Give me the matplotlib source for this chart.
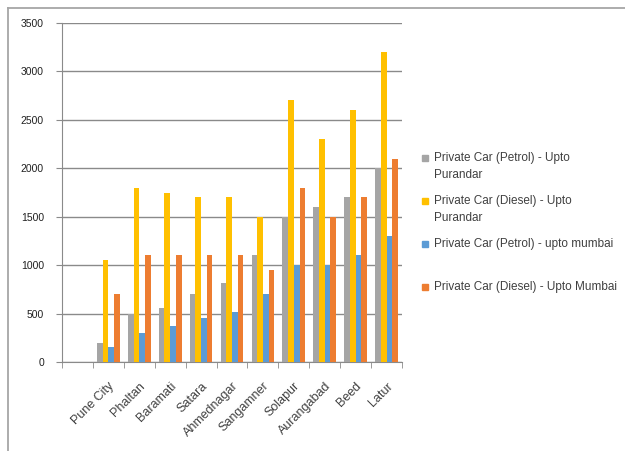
import matplotlib
matplotlib.use('Agg')
import matplotlib.pyplot as plt
from matplotlib.lines import Line2D
from matplotlib.patches import Rectangle
import numpy as np

plt.rcParams['font.family'] = ['Liberation Sans', 'DejaVu Sans']

# first slot is left empty in the original chart
cities = ['', 'Pune City', 'Phaltan', 'Baramati', 'Satara', 'Ahmednagar',
          'Sangamner', 'Solapur', 'Aurangabad', 'Beed', 'Latur']
petrol_purandar = [np.nan, 200, 500, 560, 700, 820, 1100, 1500, 1600, 1700, 2000]
diesel_purandar = [np.nan, 1050, 1800, 1740, 1700, 1700, 1500, 2700, 2300, 2600, 3200]
petrol_mumbai = [np.nan, 150, 300, 370, 450, 520, 700, 1000, 1000, 1100, 1300]
diesel_mumbai = [np.nan, 700, 1100, 1100, 1100, 1100, 950, 1800, 1500, 1700, 2100]

series = [petrol_purandar, diesel_purandar, petrol_mumbai, diesel_mumbai]
labels = ['Private Car (Petrol) - Upto\nPurandar',
          'Private Car (Diesel) - Upto\nPurandar',
          'Private Car (Petrol) - upto mumbai',
          'Private Car (Diesel) - Upto Mumbai']
colors = ['#A5A5A5', '#FFC000', '#5B9BD5', '#ED7D31']

W, H = 625, 451
fig = plt.figure(figsize=(W / 100, H / 100), dpi=100)
ax = fig.add_axes([62 / W, 1 - 362 / H, 340 / W, 339 / H])

x = np.arange(len(cities))
bw = 0.184
for i, (vals, c) in enumerate(zip(series, colors)):
    ax.bar(x + (i - 1.5) * bw, vals, bw, color=c, zorder=3)

grid_c = '#8a8a8a'
ax.set_ylim(0, 3500)
ax.set_yticks(np.arange(0, 3501, 500))
ax.yaxis.grid(True, color=grid_c, lw=1, zorder=0)
ax.set_xlim(-0.5, len(cities) - 0.5)
ax.set_xticks(x)
ax.set_xticklabels(cities, rotation=45, ha='right', va='top',
                   rotation_mode='anchor', fontsize=9, color='#404040')
ax.set_xticks(np.arange(-0.5, len(cities)), minor=True)
ax.tick_params(axis='x', which='major', length=0, pad=13)
ax.tick_params(axis='x', which='minor', length=4, color=grid_c)
ax.tick_params(axis='y', length=4, color=grid_c, pad=9, labelsize=7.5,
               labelcolor='#202020')
for s in ['top', 'right']:
    ax.spines[s].set_visible(False)
for s in ['left', 'bottom']:
    ax.spines[s].set_color(grid_c)

# chart area border (only top and left edges are visible)
fig.add_artist(Line2D([8 / W, 1], [1 - 8 / H] * 2, color='#a6a6a6', lw=1.3))
fig.add_artist(Line2D([8 / W] * 2, [0, 1 - 8 / H], color='#a6a6a6', lw=1.3))

# legend, Excel style: marker next to the first line of each entry
for k, (lab, c) in enumerate(zip(labels, colors)):
    yc = 158 + k * 43
    fig.add_artist(Rectangle((422 / W, 1 - (yc + 3) / H), 6 / W, 6 / H,
                             transform=fig.transFigure, color=c))
    for j, line in enumerate(lab.split('\n')):
        fig.text(434 / W, 1 - (yc + j * 17) / H, line, fontsize=8.5,
                 va='center', ha='left', color='#404040')

fig.savefig('out.png', dpi=100)
